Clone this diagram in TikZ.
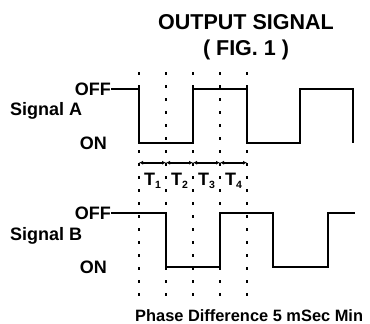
\documentclass[tikz,border=0pt]{standalone}
\usepackage{fontspec}
\setmainfont{Liberation Sans}[BoldFont={Liberation Sans Bold}]
\usetikzlibrary{arrows.meta}
\begin{document}
\begin{tikzpicture}[x=1pt,y=-1pt,
  lbl/.style={inner sep=0pt,font=\fontsize{18}{20}\selectfont\bfseries},
  ttl/.style={inner sep=0pt,font=\fontsize{21.5}{24}\selectfont\bfseries},
  wave/.style={line width=1.9pt,line join=miter},
  guide/.style={line width=1.7pt,dash pattern=on 2.5pt off 10.5pt},
  dim/.style={line width=1.6pt,{Latex[length=4pt,width=4pt]}-{Latex[length=4pt,width=4pt]}}]
\useasboundingbox[fill=white] (0,0) rectangle (370,324);
% titles
\node[ttl] (title) at (246,22) {OUTPUT SIGNAL};
\node[ttl] (fig) at (246,50) {( FIG. 1 )};
% labels A
\node[lbl,anchor=east] (offA) at (111,89) {OFF};
\node[lbl,anchor=west] (sigA) at (10,111) {Signal A};
\node[lbl,anchor=east] (onA) at (107,143) {ON};
% labels B
\node[lbl,anchor=east] (offB) at (111,213) {OFF};
\node[lbl,anchor=west] (sigB) at (10,236) {Signal B};
\node[lbl,anchor=east] (onB) at (107,267) {ON};
% guide lines
\foreach \i/\x in {1/139,2/166,3/193,4/220,5/247} {
  \coordinate (g\i t) at (\x,72);
  \coordinate (g\i b) at (\x,297);
  \coordinate (g\i m) at (\x,162.7);
  \draw[guide] (g\i t) -- (g\i b);
}
% waveforms
\draw[wave] (offA.east) -- (139,89) -- (139,143) -- (193,143) -- (193,89) -- (247,89)
  -- (247,143) -- (300,143) -- (300,89) -- (353,89) -- (353,143);
\draw[wave] (offB.east) -- (166,213) -- (166,267) -- (220,267) -- (220,213) -- (273,213)
  -- (273,267) -- (328,267) -- (328,213) -- (355,213);
% dimension arrows
\draw[dim] (g1m) -- (g2m);
\draw[dim] (g2m) -- (g3m);
\draw[dim] (g3m) -- (g4m);
\draw[dim] (g4m) -- (g5m);
% T labels
\node[lbl] (T1) at (152.5,181) {T\raisebox{-0.35ex}{\fontsize{10.5}{12}\selectfont 1}};
\node[lbl] (T2) at (179.5,181) {T\raisebox{-0.35ex}{\fontsize{10.5}{12}\selectfont 2}};
\node[lbl] (T3) at (206.5,181) {T\raisebox{-0.35ex}{\fontsize{10.5}{12}\selectfont 3}};
\node[lbl] (T4) at (233.5,181) {T\raisebox{-0.35ex}{\fontsize{10.5}{12}\selectfont 4}};
% bottom text
\node[inner sep=0pt,font=\fontsize{16.4}{18}\selectfont\bfseries,anchor=west] (phase) at (135,315.5) {Phase Difference 5 mSec Min};
\end{tikzpicture}
\end{document}
